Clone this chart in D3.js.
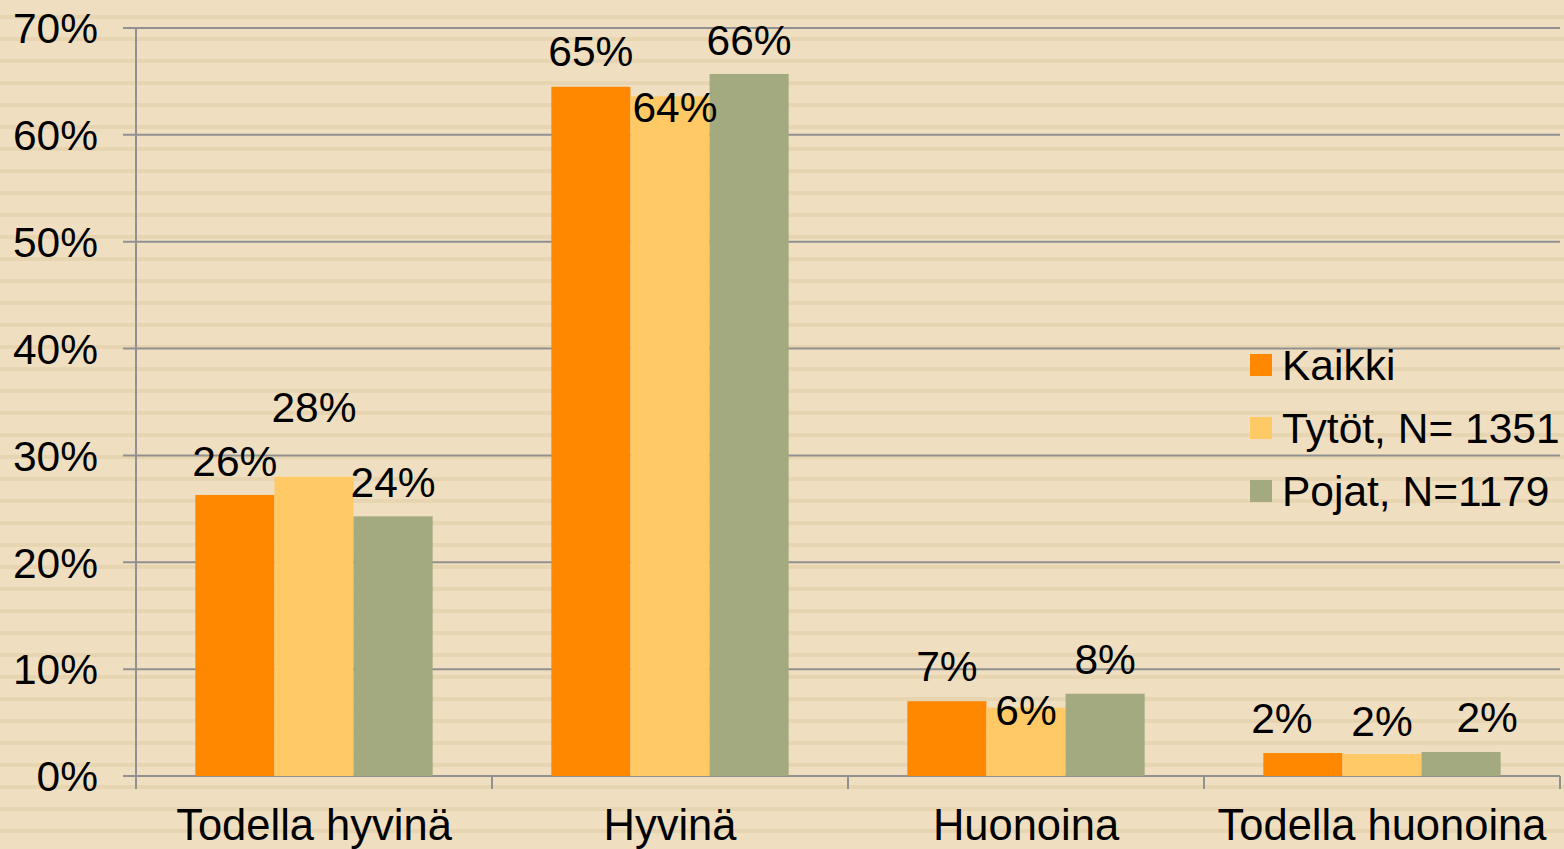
<!DOCTYPE html>
<html>
<head>
<meta charset="utf-8">
<script src="https://cdn.jsdelivr.net/npm/d3@7"></script>
<style>
  body { margin: 0; background: #EFDFC0; }
  svg { display: block; font-family: "Liberation Sans", Arial, sans-serif; }
</style>
</head>
<body>
<div id="chart"></div>
<script>
// data
var categories = ["Todella hyvinä", "Hyvinä", "Huonoina", "Todella huonoina"];
var seriesNames = ["Kaikki", "Tytöt, N= 1351", "Pojat, N=1179"];
var kaikki = [26.3, 64.5, 7.0, 2.15];
var tytot  = [28.0, 63.6, 6.4, 2.06];
var pojat  = [24.3, 65.7, 7.7, 2.25];
var valueLabels = [
  ["26%", "65%", "7%", "2%"],
  ["28%", "64%", "6%", "2%"],
  ["24%", "66%", "8%", "2%"]
];
var yTicks = [0, 10, 20, 30, 40, 50, 60, 70];

// label nudges (Excel moved some labels to avoid overlaps)
var labelDx = [[0, 0, 0, -21], [0, 5, 0, 0], [0, 0, 0, 26]];
var labelDy = [[1, -1, -1, 0], [-35, 45, 37, 2], [0, 1, 0, 0]];

var colors = ["#FF8800", "#FFC966", "#A3AA80"];
var series = [kaikki, tytot, pojat];

var W = 1564, H = 849;
var margin = {top: 28, right: 4, bottom: 73, left: 136};

var svg = d3.select("#chart").append("svg")
  .attr("width", W)
  .attr("height", H);

// striped background
var defs = svg.append("defs");
var pat = defs.append("pattern")
  .attr("id", "stripes")
  .attr("patternUnits", "userSpaceOnUse")
  .attr("width", 22).attr("height", 22)
  .attr("y", 15);
pat.append("rect").attr("width", 22).attr("height", 22).attr("fill", "#EFDFC0");
pat.append("rect").attr("width", 22).attr("height", 4).attr("fill", "#E7D5B1");
svg.append("rect").attr("width", W).attr("height", H).attr("fill", "url(#stripes)");

var x0 = d3.scaleBand()
  .domain(categories)
  .range([margin.left, W - margin.right])
  .padding(0);

var x1 = d3.scaleBand()
  .domain(d3.range(series.length))
  .range([0, x0.bandwidth()])
  .paddingInner(0)
  .paddingOuter(0.75);

var y = d3.scaleLinear()
  .domain([0, 70])
  .range([H - margin.bottom, margin.top]);

var gridColor = "#919191";

// gridlines + y ticks
svg.append("g")
  .selectAll("line")
  .data(yTicks)
  .enter().append("line")
    .attr("x1", margin.left - 13)
    .attr("x2", W - margin.right)
    .attr("y1", function(d) { return y(d); })
    .attr("y2", function(d) { return y(d); })
    .attr("stroke", gridColor)
    .attr("stroke-width", 2);

// y axis line
svg.append("line")
  .attr("x1", margin.left).attr("x2", margin.left)
  .attr("y1", y(70)).attr("y2", y(0) + 13)
  .attr("stroke", gridColor).attr("stroke-width", 2);

// y labels
svg.append("g")
  .selectAll("text")
  .data(yTicks)
  .enter().append("text")
    .attr("x", 98)
    .attr("y", function(d) { return y(d); })
    .attr("dy", "0.36em")
    .attr("text-anchor", "end")
    .style("font-size", "42.5px")
    .text(function(d) { return d + "%"; });

// x ticks at band boundaries
var xb = categories.map(function(c) { return x0(c); }).concat([x0.range()[1]]);
svg.append("g")
  .selectAll("line")
  .data(xb.slice(1))
  .enter().append("line")
    .attr("x1", function(d) { return d; })
    .attr("x2", function(d) { return d; })
    .attr("y1", y(0))
    .attr("y2", y(0) + 13)
    .attr("stroke", gridColor)
    .attr("stroke-width", 2);

// bars
series.forEach(function(vals, si) {
  svg.append("g")
    .selectAll("rect")
    .data(vals)
    .enter().append("rect")
      .attr("x", function(d, i) { return x0(categories[i]) + x1(si); })
      .attr("y", function(d) { return y(d); })
      .attr("width", x1.bandwidth())
      .attr("height", function(d) { return y(0) - y(d); })
      .attr("fill", colors[si]);
});

// value labels
series.forEach(function(vals, si) {
  svg.append("g")
    .selectAll("text")
    .data(vals)
    .enter().append("text")
      .attr("x", function(d, i) { return x0(categories[i]) + x1(si) + x1.bandwidth() / 2 + labelDx[si][i]; })
      .attr("y", function(d, i) { return y(d) - 35 + labelDy[si][i]; })
      .attr("dy", "0.36em")
      .attr("text-anchor", "middle")
      .style("font-size", "42.5px")
      .text(function(d, i) { return valueLabels[si][i]; });
});

// x labels
svg.append("g")
  .selectAll("text")
  .data(categories)
  .enter().append("text")
    .attr("x", function(d) { return x0(d) + x0.bandwidth() / 2; })
    .attr("y", 840)
    .attr("text-anchor", "middle")
    .style("font-size", "43.5px")
    .text(function(d) { return d; });

// legend
var legend = svg.append("g").attr("transform", "translate(1250,365)");
seriesNames.forEach(function(name, i) {
  var row = legend.append("g").attr("transform", "translate(0," + (i * 63) + ")");
  row.append("rect")
    .attr("x", 0).attr("y", -11)
    .attr("width", 22).attr("height", 22)
    .attr("fill", colors[i]);
  row.append("text")
    .attr("x", 32)
    .attr("y", 0)
    .attr("dy", "0.36em")
    .style("font-size", "42.5px")
    .text(name);
});
</script>
</body>
</html>
